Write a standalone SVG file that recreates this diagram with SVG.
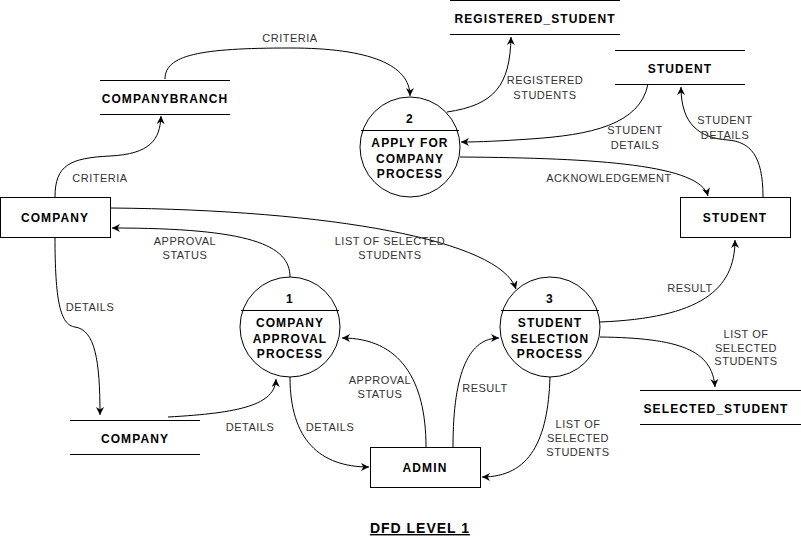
<svg xmlns="http://www.w3.org/2000/svg" width="801" height="538" viewBox="0 0 801 538">
  <style>
    .shape { fill: #ffffff; stroke: #000000; stroke-width: 1; }
    .ln { stroke: #000000; stroke-width: 1; fill: none; }
    .nt { font-family: "Liberation Sans", Arial, sans-serif; font-size: 12px; font-weight: bold; letter-spacing: 1.1px; fill: #000000; text-anchor: middle; }
    .lb { font-family: "Liberation Sans", Arial, sans-serif; font-size: 11px; letter-spacing: 0.5px; fill: #333333; text-anchor: middle; }
    .edge { stroke: #000000; stroke-width: 1; fill: none; marker-end: url(#arrow); }
    .title { font-family: "Liberation Sans", Arial, sans-serif; font-size: 14px; font-weight: bold; letter-spacing: 1px; fill: #000000; text-anchor: middle; text-decoration: underline; }
  </style>
  <defs>
    <marker id="arrow" viewBox="0 0 10 10" refX="10" refY="5" markerWidth="8" markerHeight="8" markerUnits="userSpaceOnUse" orient="auto">
      <path d="M0,0 L10,5 L0,10 L3,5 z" fill="#000000"/>
    </marker>
  </defs>
  <rect x="0" y="0" width="801" height="538" fill="#ffffff"/>

  <g id="connectors">
    <path class="edge" d="M55,197 C55,165 70,158 110,156 C150,154 160,140 161,116"/>
    <path class="edge" d="M165,79 C165,55 200,48 290,48 C370,48 410,65 410,96"/>
    <path class="edge" d="M447,112 C495,105 510,85 511,37"/>
    <path class="edge" d="M648,84 C640,125 590,135 530,139 C500,141 480,142 461,142"/>
    <path class="edge" d="M460,157 C600,158 700,165 708,196"/>
    <path class="edge" d="M763,197 C763,155 750,142 728,140 C700,138 681,125 681,87"/>
    <path class="edge" d="M111,208 C330,210 500,240 516,289"/>
    <path class="edge" d="M290,277 C290,245 250,228 112,228"/>
    <path class="edge" d="M55,237 C55,300 60,325 75,327 C95,330 100,360 100,415"/>
    <path class="edge" d="M168,417 C240,413 275,405 276,379"/>
    <path class="edge" d="M290,377 C290,440 320,467 369,467"/>
    <path class="edge" d="M426,447 C426,380 400,338 342,338"/>
    <path class="edge" d="M453,447 C453,370 470,338 499,338"/>
    <path class="edge" d="M550,377 C548,440 530,477 482,477"/>
    <path class="edge" d="M600,322 C700,318 735,290 735,240"/>
    <path class="edge" d="M600,337 C680,338 712,350 715,387"/>

    <text class="lb" x="290" y="42">CRITERIA</text>
    <text class="lb" x="100" y="182">CRITERIA</text>
    <text class="lb" x="545" y="84">REGISTERED</text>
    <text class="lb" x="545" y="99">STUDENTS</text>
    <text class="lb" x="635" y="134">STUDENT</text>
    <text class="lb" x="635" y="149">DETAILS</text>
    <text class="lb" x="725" y="124">STUDENT</text>
    <text class="lb" x="725" y="139">DETAILS</text>
    <text class="lb" x="609" y="182">ACKNOWLEDGEMENT</text>
    <text class="lb" x="185" y="245">APPROVAL</text>
    <text class="lb" x="185" y="259">STATUS</text>
    <text class="lb" x="390" y="245">LIST OF SELECTED</text>
    <text class="lb" x="390" y="259">STUDENTS</text>
    <text class="lb" x="90" y="311">DETAILS</text>
    <text class="lb" x="250" y="431">DETAILS</text>
    <text class="lb" x="330" y="431">DETAILS</text>
    <text class="lb" x="380" y="384">APPROVAL</text>
    <text class="lb" x="380" y="398">STATUS</text>
    <text class="lb" x="485" y="392">RESULT</text>
    <text class="lb" x="578" y="428">LIST OF</text>
    <text class="lb" x="578" y="442">SELECTED</text>
    <text class="lb" x="578" y="456">STUDENTS</text>
    <text class="lb" x="690" y="292">RESULT</text>
    <text class="lb" x="746" y="338">LIST OF</text>
    <text class="lb" x="746" y="352">SELECTED</text>
    <text class="lb" x="746" y="365">STUDENTS</text>
  </g>

  <g id="company-entity">
    <rect class="shape" x="0.5" y="197.5" width="110" height="40"/>
    <text class="nt" x="55" y="222">COMPANY</text>
  </g>
  <g id="student-entity">
    <rect class="shape" x="680.5" y="197.5" width="110" height="40"/>
    <text class="nt" x="735" y="222">STUDENT</text>
  </g>
  <g id="admin-entity">
    <rect class="shape" x="370.5" y="447.5" width="110" height="40"/>
    <text class="nt" x="425" y="472">ADMIN</text>
  </g>

  <g id="companybranch-store">
    <line class="ln" x1="100" y1="80.5" x2="230" y2="80.5"/>
    <line class="ln" x1="100" y1="114.5" x2="230" y2="114.5"/>
    <text class="nt" x="165" y="103">COMPANYBRANCH</text>
  </g>
  <g id="registered-student-store">
    <line class="ln" x1="450" y1="0.5" x2="620" y2="0.5"/>
    <line class="ln" x1="450" y1="34.5" x2="620" y2="34.5"/>
    <text class="nt" x="535" y="22.5">REGISTERED_STUDENT</text>
  </g>
  <g id="student-store">
    <line class="ln" x1="615" y1="50.5" x2="745" y2="50.5"/>
    <line class="ln" x1="615" y1="84.5" x2="745" y2="84.5"/>
    <text class="nt" x="680" y="72.5">STUDENT</text>
  </g>
  <g id="company-store">
    <line class="ln" x1="70" y1="420.5" x2="200" y2="420.5"/>
    <line class="ln" x1="70" y1="454.5" x2="200" y2="454.5"/>
    <text class="nt" x="135" y="442.5">COMPANY</text>
  </g>
  <g id="selected-student-store">
    <line class="ln" x1="640" y1="390.5" x2="801" y2="390.5"/>
    <line class="ln" x1="640" y1="424.5" x2="801" y2="424.5"/>
    <text class="nt" x="716" y="412.5">SELECTED_STUDENT</text>
  </g>

  <g id="process-1">
    <circle class="shape" cx="290" cy="327" r="50"/>
    <line class="ln" x1="241" y1="310.5" x2="339" y2="310.5"/>
    <text class="nt" x="290" y="302.5">1</text>
    <text class="nt" x="290" y="326.5">COMPANY</text>
    <text class="nt" x="290" y="342.5">APPROVAL</text>
    <text class="nt" x="290" y="357.5">PROCESS</text>
  </g>
  <g id="process-2">
    <circle class="shape" cx="410" cy="147" r="50"/>
    <line class="ln" x1="361" y1="130.5" x2="459" y2="130.5"/>
    <text class="nt" x="410" y="122.5">2</text>
    <text class="nt" x="410" y="146.5">APPLY FOR</text>
    <text class="nt" x="410" y="162.5">COMPANY</text>
    <text class="nt" x="410" y="177.5">PROCESS</text>
  </g>
  <g id="process-3">
    <circle class="shape" cx="550" cy="327" r="50"/>
    <line class="ln" x1="501" y1="310.5" x2="599" y2="310.5"/>
    <text class="nt" x="550" y="302.5">3</text>
    <text class="nt" x="550" y="326.5">STUDENT</text>
    <text class="nt" x="550" y="342.5">SELECTION</text>
    <text class="nt" x="550" y="357.5">PROCESS</text>
  </g>

  <g id="title">
    <text class="title" x="420" y="533">DFD LEVEL 1</text>
  </g>
</svg>
